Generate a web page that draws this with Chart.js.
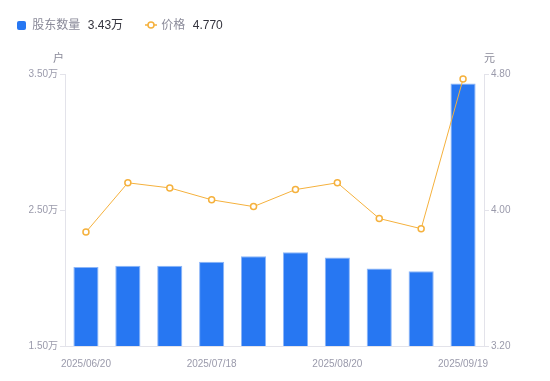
<!DOCTYPE html>
<html>
<head>
<meta charset="utf-8">
<script src="https://cdn.jsdelivr.net/npm/chart.js@4.4.1/dist/chart.umd.min.js"></script>
<style>
  html, body { margin: 0; padding: 0; background: #fff; }
  body { width: 550px; height: 381px; position: relative; overflow: hidden;
         font-family: "Liberation Sans", "Noto Sans CJK SC", sans-serif; }
  #wrap { position: absolute; left: 0; top: 0; width: 550px; height: 381px; }
  .lg { position: absolute; top: 17px; font-size: 12px; line-height: 16px; white-space: nowrap; }
  .gray { color: #8a8a99; }
  .dark { color: #33333d; }
  .unit { position: absolute; top: 49px; font-size: 11px; color: #8a8a99; }
</style>
</head>
<body>
<div id="wrap"><canvas id="holdersChart"></canvas></div>

<div class="lg" style="left:17px;">
  <span style="display:inline-block;width:9px;height:9px;background:#2777f2;border-radius:2px;vertical-align:-1px;"></span>
  <span class="gray" style="margin-left:3px;">股东数量</span>
  <span class="dark" style="margin-left:4px;">3.43万</span>
</div>
<div class="lg" style="left:145px;">
  <svg width="12" height="10" style="vertical-align:-1px;"><line x1="0" y1="5" x2="12" y2="5" stroke="#f5b13d" stroke-width="1.5"/><circle cx="6" cy="5" r="3" fill="#fff" stroke="#f5b13d" stroke-width="1.5"/></svg>
  <span class="gray" style="margin-left:1px;">价格</span>
  <span class="dark" style="margin-left:4px;">4.770</span>
</div>
<div class="unit" style="left:53px;">户</div>
<div class="unit" style="left:484px;">元</div>

<script>
  var dates = ["2025/06/20", "2025/06/30", "2025/07/10", "2025/07/18", "2025/07/31",
               "2025/08/10", "2025/08/20", "2025/08/31", "2025/09/10", "2025/09/19"];
  var holders = [2.08, 2.09, 2.09, 2.12, 2.16, 2.19, 2.15, 2.07, 2.05, 3.43];   // 万户
  var price = [3.87, 4.16, 4.13, 4.06, 4.02, 4.12, 4.16, 3.95, 3.89, 4.77];     // 元
  var shownDates = [0, 3, 6, 9];

  var axisColor = "#e3e3ea";
  var tickColor = "#9a9aab";
  var fontFamily = '"Liberation Sans", "Noto Sans CJK SC", sans-serif';

  var chart = new Chart("holdersChart", {
    data: {
      labels: dates,
      datasets: [
        {
          type: "line",
          label: "价格",
          data: price,
          yAxisID: "yPrice",
          borderColor: "#f5b13d",
          borderWidth: 1,
          backgroundColor: "#fff",
          pointBackgroundColor: "#fff",
          pointBorderColor: "#f5b13d",
          pointBorderWidth: 1.5,
          pointRadius: 3,
          tension: 0,
          order: 0
        },
        {
          type: "bar",
          label: "股东数量",
          data: holders,
          yAxisID: "yHolders",
          backgroundColor: "#2777f2",
          borderColor: "#8cb6f8",
          borderWidth: { top: 1, left: 1, right: 1, bottom: 0 },
          categoryPercentage: 0.6,
          barPercentage: 1,
          order: 1
        }
      ]
    },
    options: {
      responsive: true,
      maintainAspectRatio: false,
      animation: false,
      layout: { padding: { top: 74, bottom: 0, left: 0, right: 0 } },
      plugins: {
        legend: { display: false },
        tooltip: { enabled: false }
      },
      scales: {
        x: {
          grid: { display: false },
          border: { display: true, color: axisColor },
          ticks: {
            autoSkip: false,
            maxRotation: 0,
            color: tickColor,
            font: { family: fontFamily, size: 10 },
            padding: 4,
            callback: function (value, index) {
              return shownDates.indexOf(index) >= 0 ? dates[index] : "";
            }
          },
          afterFit: function (scale) { scale.height = 35; }
        },
        yHolders: {
          position: "left",
          min: 1.5,
          max: 3.5,
          grid: { drawOnChartArea: false, drawTicks: true, tickLength: 5, color: axisColor },
          border: { display: true, color: axisColor },
          ticks: {
            stepSize: 1,
            color: tickColor,
            font: { family: fontFamily, size: 10 },
            padding: 2,
            callback: function (v) { return v.toFixed(2) + "万"; }
          },
          afterFit: function (scale) { scale.width = 65; }
        },
        yPrice: {
          position: "right",
          min: 3.2,
          max: 4.8,
          grid: { drawOnChartArea: false, drawTicks: true, tickLength: 5, color: axisColor },
          border: { display: true, color: axisColor },
          ticks: {
            stepSize: 0.8,
            color: tickColor,
            font: { family: fontFamily, size: 10 },
            padding: 2,
            callback: function (v) { return v.toFixed(2); }
          },
          afterFit: function (scale) { scale.width = 66; }
        }
      }
    }
  });
</script>
</body>
</html>
